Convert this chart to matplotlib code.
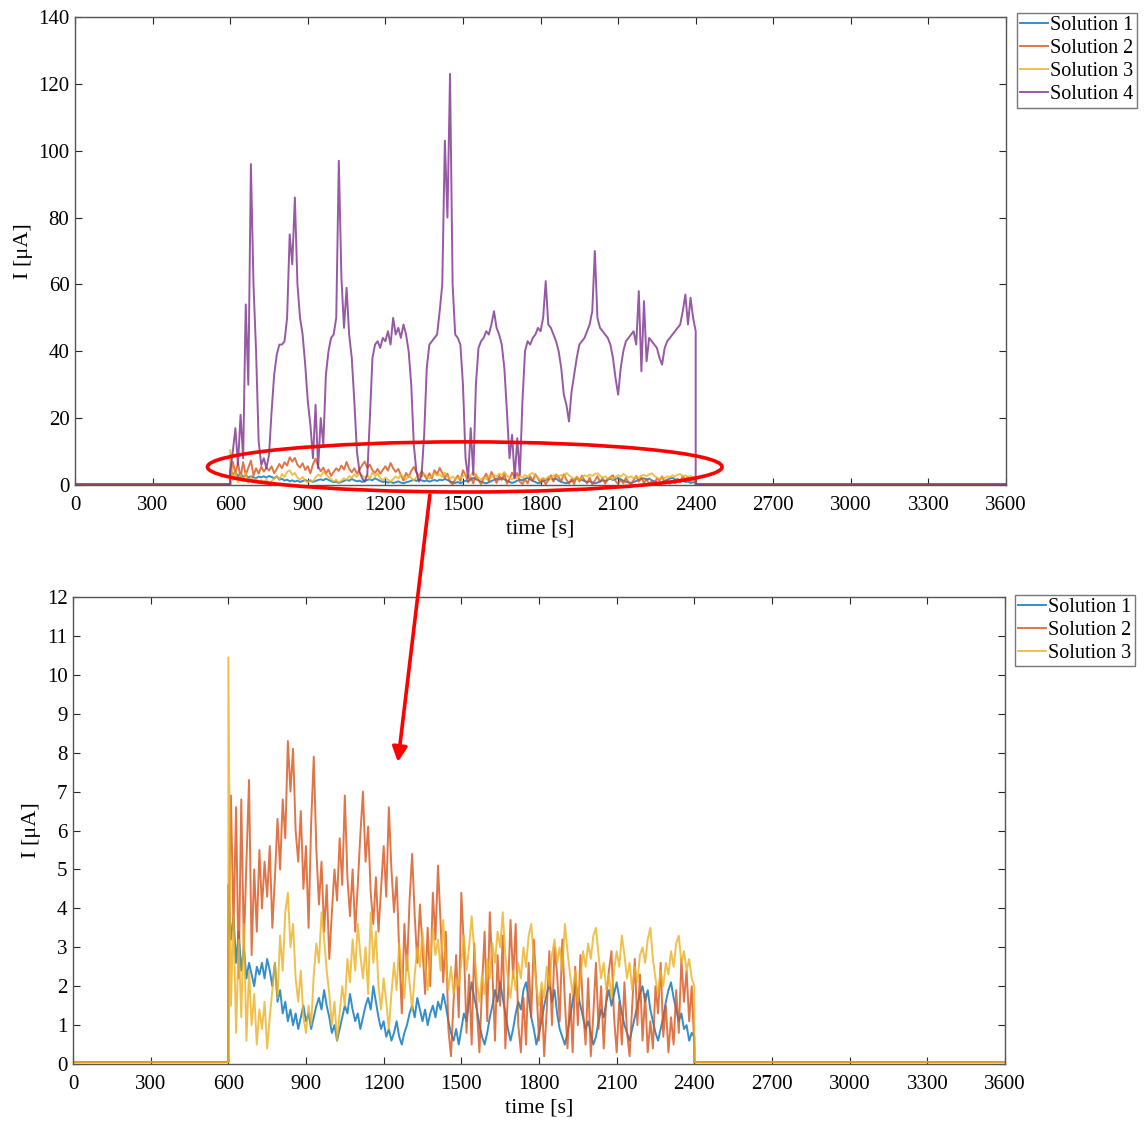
import numpy as np
import matplotlib
matplotlib.use("Agg")
import matplotlib.pyplot as plt
from matplotlib.patches import Ellipse, ConnectionPatch

plt.rcParams['font.family'] = ['Liberation Serif', 'DejaVu Serif']

# sampled every 10 s between 600 s and 2400 s
t = np.arange(600, 2401, 10)

sol1 = [4.6, 3.2, 3.8, 2.6, 3.4, 2.4, 3.0, 2.2, 2.6, 2.3,
        2.0, 2.5, 2.3, 2.6, 2.2, 2.7, 2.4, 2.0, 2.6, 1.6,
        1.9, 1.3, 1.6, 1.1, 1.4, 1.0, 1.3, 0.9, 1.2, 1.5,
        1.1, 1.3, 0.9, 1.2, 1.5, 1.7, 1.4, 1.9, 1.5, 1.2,
        0.8, 1.0, 0.6, 0.9, 1.2, 1.5, 1.3, 1.8, 1.4, 1.1,
        1.3, 0.9, 1.2, 1.5, 1.7, 1.4, 2.0, 1.6, 1.2, 0.9,
        1.1, 0.7, 0.9, 0.6, 0.8, 1.1, 0.7, 0.5, 0.8, 1.0,
        1.3, 1.5, 1.2, 1.7, 1.4, 1.1, 1.4, 1.0, 1.3, 1.5,
        1.2, 1.6, 1.4, 1.8, 1.5, 1.1, 0.8, 0.6, 0.9, 0.5,
        0.9, 1.3, 1.1, 1.6, 2.1, 1.7, 1.4, 1.0, 0.7, 0.5,
        0.8, 1.2, 1.5, 1.9, 1.6, 2.1, 1.7, 1.3, 0.9, 0.6,
        0.9, 1.3, 1.6, 1.4, 1.9, 2.1, 1.7, 1.2, 0.9, 0.5,
        0.8, 1.1, 1.5, 1.8, 2.1, 1.6, 1.9, 1.3, 0.9, 0.7,
        0.5, 0.8, 1.2, 1.6, 2.1, 1.8, 1.5, 1.2, 0.9, 1.1,
        0.8, 0.5, 0.7, 1.1, 1.4, 1.2, 1.6, 1.9, 1.5, 1.8,
        2.1, 1.7, 1.3, 1.0, 0.8, 0.6, 0.9, 1.2, 1.5, 1.8,
        2.0, 1.6, 1.9, 1.4, 1.1, 0.8, 0.6, 0.9, 1.2, 1.6,
        1.9, 2.1, 1.7, 1.4, 1.1, 1.3, 0.9, 1.0, 0.6, 0.8, 0.7]

sol2 = [3.0, 6.9, 3.5, 6.6, 2.2, 6.8, 3.0, 5.2, 7.3, 2.8,
        5.0, 3.4, 5.5, 4.0, 5.2, 4.3, 5.6, 3.5, 4.8, 6.3,
        5.0, 6.8, 5.8, 8.3, 7.0, 8.1, 6.0, 5.2, 6.5, 4.5,
        5.6, 3.5, 6.2, 7.9, 5.5, 4.1, 5.2, 3.4, 4.6, 2.7,
        3.9, 5.0, 4.2, 5.8, 4.6, 6.9, 4.8, 3.8, 5.0, 3.4,
        4.6, 5.9, 7.0, 5.2, 6.1, 4.4, 3.6, 4.8, 3.4, 4.5,
        5.6, 4.3, 6.6, 5.0, 3.9, 4.8, 2.9, 1.3, 3.6, 2.4,
        4.2, 5.4, 3.8, 2.6, 4.1, 3.0, 1.8, 3.5, 2.0, 4.4,
        3.2, 5.1, 3.6, 2.1, 3.4, 0.9, 0.2, 1.6, 2.8, 1.2,
        4.4, 3.0, 0.8, 2.3, 0.5, 3.1, 1.4, 0.3, 2.0, 3.4,
        1.1, 3.9, 2.4, 0.6, 2.8, 1.5, 3.3, 0.4, 1.8, 3.7,
        2.2, 3.6, 1.0, 0.3, 1.7, 0.5, 2.6, 1.2, 3.2, 2.0,
        0.6, 1.9, 0.2, 1.4, 2.9, 1.0, 3.0, 2.3, 1.1, 3.2,
        1.6, 0.4, 1.8, 0.3, 2.5, 1.0, 2.8, 1.4, 0.5, 2.2,
        0.2, 1.3, 2.6, 0.9, 2.0, 0.4, 1.7, 2.4, 2.9, 1.2,
        0.3, 1.6, 0.5, 2.1, 0.8, 0.2, 1.5, 2.7, 1.0, 2.3,
        0.6, 1.8, 0.3, 1.1, 0.4, 2.0, 1.3, 2.6, 0.7, 1.5,
        0.3, 1.2, 0.5, 1.9, 0.8, 2.7, 1.6, 2.4, 1.1, 2.0, 0.4]

sol3 = [10.45, 1.5, 3.8, 0.8, 3.2, 1.2, 3.6, 0.6, 2.4, 1.0,
        1.8, 0.5, 1.4, 0.9, 1.6, 0.4, 1.2, 1.9, 2.6, 1.7,
        3.3, 2.4, 3.9, 4.4, 3.0, 3.6, 2.2, 1.6, 2.4, 1.2,
        0.8, 1.5, 1.0, 2.3, 3.1, 2.6, 3.9, 3.2, 2.4, 1.8,
        1.0, 1.6, 0.6, 1.3, 2.0, 1.5, 2.7, 2.1, 3.2, 2.4,
        3.6, 2.8, 2.2, 3.0, 1.8, 3.9, 2.6, 3.4, 2.0, 1.4,
        2.2, 1.6, 0.9, 1.8, 2.6, 1.9, 3.1, 2.4, 1.7, 2.8,
        2.1, 1.4, 2.3, 3.0, 2.5, 3.4, 2.6, 1.9, 2.7, 3.5,
        2.8, 3.2, 2.4, 3.7, 2.6, 1.9, 2.5, 1.8, 2.2, 2.0,
        2.6, 3.3, 2.4, 3.0, 3.8, 2.9, 2.1, 1.6, 2.3, 1.8,
        2.7, 2.2, 3.1, 2.6, 3.4, 3.0, 3.9, 2.8, 2.2, 1.7,
        2.4, 1.9, 2.6, 2.2, 3.0, 2.5, 3.3, 3.6, 2.7, 2.0,
        1.5, 2.1, 1.7, 2.5, 2.0, 2.8, 3.2, 2.6, 3.0, 2.4,
        3.6, 2.9, 2.3, 1.8, 2.4, 1.6, 2.2, 2.9, 2.5, 3.1,
        2.7, 3.3, 3.5, 2.8, 2.2, 2.6, 1.9, 2.3, 1.7, 2.4,
        2.9, 2.5, 3.3, 2.8, 2.2, 2.6, 1.9, 2.5, 2.1, 2.8,
        3.0, 2.6, 3.2, 3.5, 2.7, 2.2, 1.8, 2.4, 2.0, 2.6,
        2.3, 2.9, 2.5, 3.1, 3.3, 2.6, 2.9, 2.4, 2.7, 2.2, 2.0]

sol4 = [4, 10, 17, 6, 21, 8, 54, 30, 96, 60,
        40, 13, 6, 8, 5, 9, 22, 33, 39, 42,
        42, 43, 50, 75, 66, 86, 60, 50, 45, 36,
        25, 18, 8, 24, 5, 20, 12, 33, 40, 44,
        45, 50, 97, 62, 47, 59, 45, 38, 25, 10,
        4, 2, 1, 3, 20, 38, 42, 43, 41, 44,
        43, 46, 42, 50, 45, 47, 44, 48, 45, 40,
        30, 12, 4, 1, 3, 15, 35, 42, 43, 44,
        45, 52, 60, 103, 80, 123, 60, 45, 44, 42,
        30, 8, 2, 17, 3, 30, 41, 43, 44, 46,
        45, 48, 52, 47, 45, 42, 35, 22, 8, 15,
        2, 14, 3, 25, 40, 43, 42, 44, 45, 47,
        46, 50, 61, 48, 47, 45, 43, 40, 35, 27,
        24, 19, 28, 33, 38, 42, 43, 44, 46, 48,
        52, 70, 50, 47, 46, 45, 44, 42, 38, 32,
        27, 35, 40, 43, 44, 45, 46, 42, 58, 34,
        55, 37, 44, 43, 42, 41, 38, 36, 41, 43,
        44, 45, 46, 47, 48, 52, 57, 48, 56, 50, 46]

labels = ['Solution 1', 'Solution 2', 'Solution 3', 'Solution 4']
colors = ['#0072BD', '#D95319', '#EDB120', '#7E2F8E']
baseline = [0.05, 0.05, 0.05, 0.3]


def full_trace(vals, base):
    x = np.concatenate([[0, 600], t, [2400, 3600]])
    y = np.concatenate([[base, base], vals, [base, base]])
    return x, y


fig = plt.figure(figsize=(11.44, 11.25), dpi=100)
ax1 = fig.add_axes([0.0656, 0.5689, 0.8138, 0.416])
ax2 = fig.add_axes([0.0638, 0.0542, 0.8147, 0.4151])

series = [sol1, sol2, sol3, sol4]
for vals, lab, col, b in zip(series, labels, colors, baseline):
    x, y = full_trace(vals, b)
    ax1.plot(x, y, color=col, lw=1.4, alpha=0.8, label=lab)
for vals, lab, col, b in zip(series[:3], labels[:3], colors[:3], baseline[:3]):
    x, y = full_trace(vals, b)
    ax2.plot(x, y, color=col, lw=1.4, alpha=0.8, label=lab)

for ax, ymax, ystep in [(ax1, 140, 20), (ax2, 12, 1)]:
    ax.set_xlim(0, 3600)
    ax.set_ylim(0, ymax)
    ax.set_xticks(np.arange(0, 3601, 300))
    ax.set_yticks(np.arange(0, ymax + 0.1, ystep))
    ax.tick_params(direction='in', top=True, right=True, labelsize=15,
                   length=5, color='#262626')
    ax.tick_params(axis='x', pad=8)
    ax.tick_params(axis='y', pad=4)
    for s in ax.spines.values():
        s.set_color('#555555')
        s.set_linewidth(1.0)
    ax.set_xlabel('time [s]', fontsize=16, labelpad=3)
    ax.set_ylabel('I [μA]', fontsize=16, labelpad=4)

leg_kw = dict(loc='upper left', bbox_transform=fig.transFigure, fontsize=14.5,
              frameon=True, fancybox=False, edgecolor='#555555', borderpad=0.15,
              labelspacing=0.2, handlelength=1.4, handletextpad=0.1,
              borderaxespad=0)
leg1 = ax1.legend(bbox_to_anchor=(1017 / 1144, 1 - 13 / 1125), **leg_kw)
leg2 = ax2.legend(bbox_to_anchor=(1015 / 1144, 1 - 595 / 1125), **leg_kw)
for leg in (leg1, leg2):
    leg.get_frame().set_linewidth(1.0)
    for h in leg.get_lines():
        h.set_alpha(0.8)

# red ellipse round the small currents and arrow to the zoomed plot
ell = Ellipse((1507, 5.4), 1990, 15, transform=ax1.transData, fill=False,
              edgecolor='red', lw=2.6, clip_on=False, zorder=5)
ax1.add_patch(ell)
arrow = ConnectionPatch(xyA=(1372, -3), coordsA=ax1.transData,
                        xyB=(1255, 7.76), coordsB=ax2.transData,
                        arrowstyle='-|>', mutation_scale=22, color='red', lw=2.6)
fig.add_artist(arrow)

fig.savefig('out.png', dpi=100)
